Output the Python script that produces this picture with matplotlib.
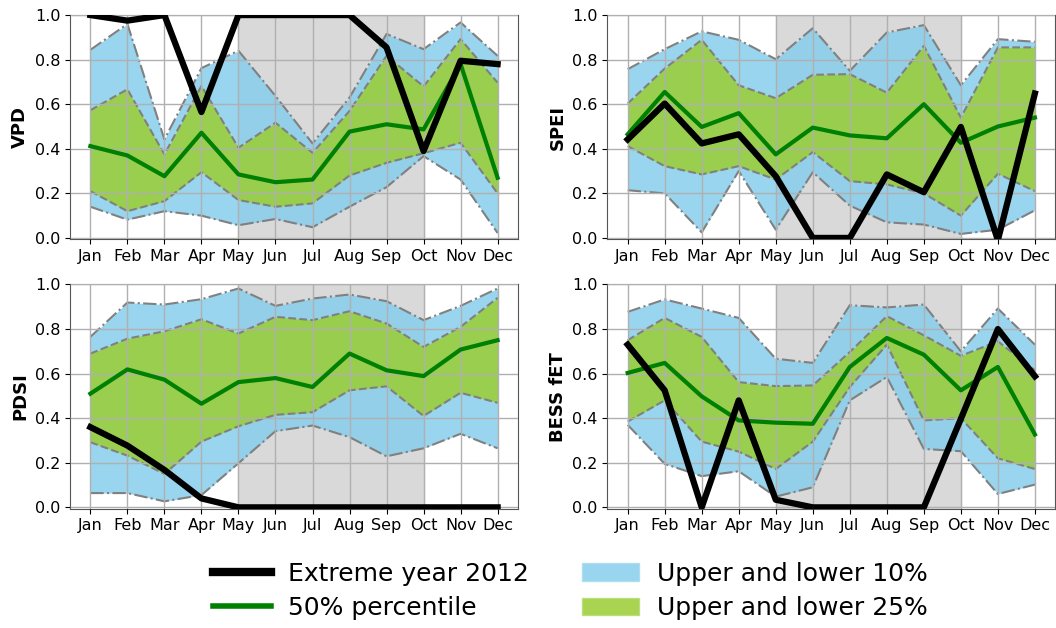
import matplotlib
matplotlib.use('Agg')
from matplotlib import pyplot as plt
from matplotlib.lines import Line2D
from matplotlib.patches import Patch

months = ['Jan', 'Feb', 'Mar', 'Apr', 'May', 'Jun', 'Jul', 'Aug', 'Sep', 'Oct', 'Nov', 'Dec']

# VPD
vpd_extreme = [1.0, 0.975, 1.0, 0.565, 1.0, 1.0, 1.0, 1.0, 0.855, 0.39, 0.795, 0.78]
vpd_median = [0.412, 0.37, 0.277, 0.472, 0.285, 0.25, 0.262, 0.477, 0.51, 0.487, 0.78, 0.27]
vpd_up10 = [0.844, 0.96, 0.442, 0.762, 0.84, 0.637, 0.424, 0.63, 0.915, 0.847, 0.967, 0.817]
vpd_up25 = [0.573, 0.667, 0.375, 0.682, 0.405, 0.517, 0.382, 0.57, 0.817, 0.68, 0.892, 0.697]
vpd_low25 = [0.21, 0.12, 0.165, 0.295, 0.17, 0.14, 0.155, 0.28, 0.337, 0.38, 0.427, 0.2]
vpd_low10 = [0.14, 0.082, 0.12, 0.1, 0.057, 0.085, 0.048, 0.14, 0.228, 0.367, 0.262, 0.022]

# SPEI
spei_extreme = [0.442, 0.603, 0.424, 0.465, 0.277, 0.0, 0.0, 0.285, 0.205, 0.498, -0.01, 0.648]
spei_median = [0.465, 0.655, 0.498, 0.56, 0.375, 0.495, 0.46, 0.447, 0.6, 0.427, 0.5, 0.54]
spei_up10 = [0.757, 0.847, 0.927, 0.889, 0.802, 0.941, 0.75, 0.922, 0.955, 0.685, 0.892, 0.88]
spei_up25 = [0.603, 0.76, 0.889, 0.685, 0.627, 0.732, 0.735, 0.652, 0.862, 0.54, 0.855, 0.855]
spei_low25 = [0.412, 0.322, 0.285, 0.322, 0.262, 0.385, 0.255, 0.24, 0.2, 0.1, 0.288, 0.21]
spei_low10 = [0.214, 0.2, 0.025, 0.3, 0.037, 0.295, 0.145, 0.07, 0.06, 0.018, 0.037, 0.124]

# PDSI
pdsi_extreme = [0.36, 0.277, 0.168, 0.04, 0.0, 0.0, 0.0, 0.0, 0.0, 0.0, 0.0, 0.0]
pdsi_median = [0.51, 0.619, 0.573, 0.465, 0.562, 0.58, 0.54, 0.69, 0.615, 0.589, 0.708, 0.75]
pdsi_up10 = [0.765, 0.919, 0.91, 0.934, 0.982, 0.904, 0.937, 0.955, 0.925, 0.84, 0.904, 0.982]
pdsi_up25 = [0.69, 0.757, 0.79, 0.844, 0.78, 0.855, 0.84, 0.88, 0.825, 0.72, 0.81, 0.94]
pdsi_low25 = [0.292, 0.232, 0.15, 0.295, 0.364, 0.415, 0.427, 0.525, 0.543, 0.41, 0.514, 0.469]
pdsi_low10 = [0.064, 0.064, 0.027, 0.055, 0.198, 0.342, 0.367, 0.315, 0.229, 0.265, 0.33, 0.265]

# BESS fET
bess_extreme = [0.73, 0.525, 0.0, 0.48, 0.034, 0.0, 0.0, 0.0, 0.0, 0.397, 0.8, 0.588]
bess_median = [0.603, 0.648, 0.498, 0.39, 0.38, 0.375, 0.63, 0.76, 0.685, 0.525, 0.63, 0.327]
bess_up10 = [0.877, 0.933, 0.892, 0.85, 0.667, 0.648, 0.907, 0.897, 0.91, 0.7, 0.892, 0.73]
bess_up25 = [0.75, 0.85, 0.765, 0.562, 0.544, 0.547, 0.697, 0.858, 0.772, 0.68, 0.745, 0.615]
bess_low25 = [0.385, 0.48, 0.295, 0.25, 0.172, 0.295, 0.54, 0.73, 0.39, 0.4, 0.22, 0.172]
bess_low10 = [0.37, 0.195, 0.14, 0.162, 0.048, 0.09, 0.48, 0.585, 0.262, 0.252, 0.06, 0.102]

panels = [
    ('VPD', vpd_extreme, vpd_median, vpd_up10, vpd_up25, vpd_low25, vpd_low10),
    ('SPEI', spei_extreme, spei_median, spei_up10, spei_up25, spei_low25, spei_low10),
    ('PDSI', pdsi_extreme, pdsi_median, pdsi_up10, pdsi_up25, pdsi_low25, pdsi_low10),
    ('BESS fET', bess_extreme, bess_median, bess_up10, bess_up25, bess_low25, bess_low10),
]

# axes positions in figure fractions (left, bottom, width, height)
positions = [
    [0.0663, 0.619, 0.4242, 0.357],
    [0.5751, 0.619, 0.4242, 0.357],
    [0.0663, 0.190, 0.4242, 0.357],
    [0.5751, 0.190, 0.4242, 0.357],
]

fig = plt.figure(figsize=(10.56, 6.28), dpi=100)
x = list(range(12))

for pos, (name, extreme, median, up10, up25, low25, low10) in zip(positions, panels):
    ax = fig.add_axes(pos)
    ax.axvspan(4, 9, color='#d9d9d9', zorder=0)
    ax.fill_between(x, low10, up10, color='skyblue', alpha=0.85, linewidth=0, zorder=1)
    ax.fill_between(x, low25, up25, color='yellowgreen', alpha=0.85, linewidth=0, zorder=1.1)
    ax.plot(x, up10, color='gray', linestyle='-.', linewidth=1.5, zorder=2)
    ax.plot(x, low10, color='gray', linestyle='-.', linewidth=1.5, zorder=2)
    ax.plot(x, up25, color='gray', linestyle='--', linewidth=1.5, zorder=2)
    ax.plot(x, low25, color='gray', linestyle='--', linewidth=1.5, zorder=2)
    ax.plot(x, median, color='green', linewidth=3, zorder=3)
    ax.plot(x, extreme, color='black', linewidth=4.5, zorder=3.1)
    ax.set_axisbelow(False)
    ax.grid(True, color='#b0b0b0', linewidth=1)
    ax.set_ylim(-0.006, 1.0)
    ax.set_xlim(-0.55, 11.55)
    ax.set_xticks(x)
    ax.set_xticklabels(months)
    ax.set_yticks([0.0, 0.2, 0.4, 0.6, 0.8, 1.0])
    ax.tick_params(labelsize=11.5)
    ax.set_ylabel(name, fontsize=13, fontweight='bold')
    for s in ax.spines.values():
        s.set_color('#555555')

handles = [
    Line2D([], [], color='black', linewidth=6),
    Line2D([], [], color='green', linewidth=4),
    Patch(facecolor='skyblue', alpha=0.85, edgecolor='#a8dcf0'),
    Patch(facecolor='yellowgreen', alpha=0.85, edgecolor='#b8dc70'),
]
labels = ['Extreme year 2012', '50% percentile', 'Upper and lower 10%', 'Upper and lower 25%']
fig.legend(handles, labels, loc='center', bbox_to_anchor=(0.54, 0.059), ncol=2,
           frameon=False, fontsize=18, handlelength=2.3, handletextpad=0.7,
           columnspacing=2.1, labelspacing=0.42)

fig.savefig('out.png', dpi=100)
